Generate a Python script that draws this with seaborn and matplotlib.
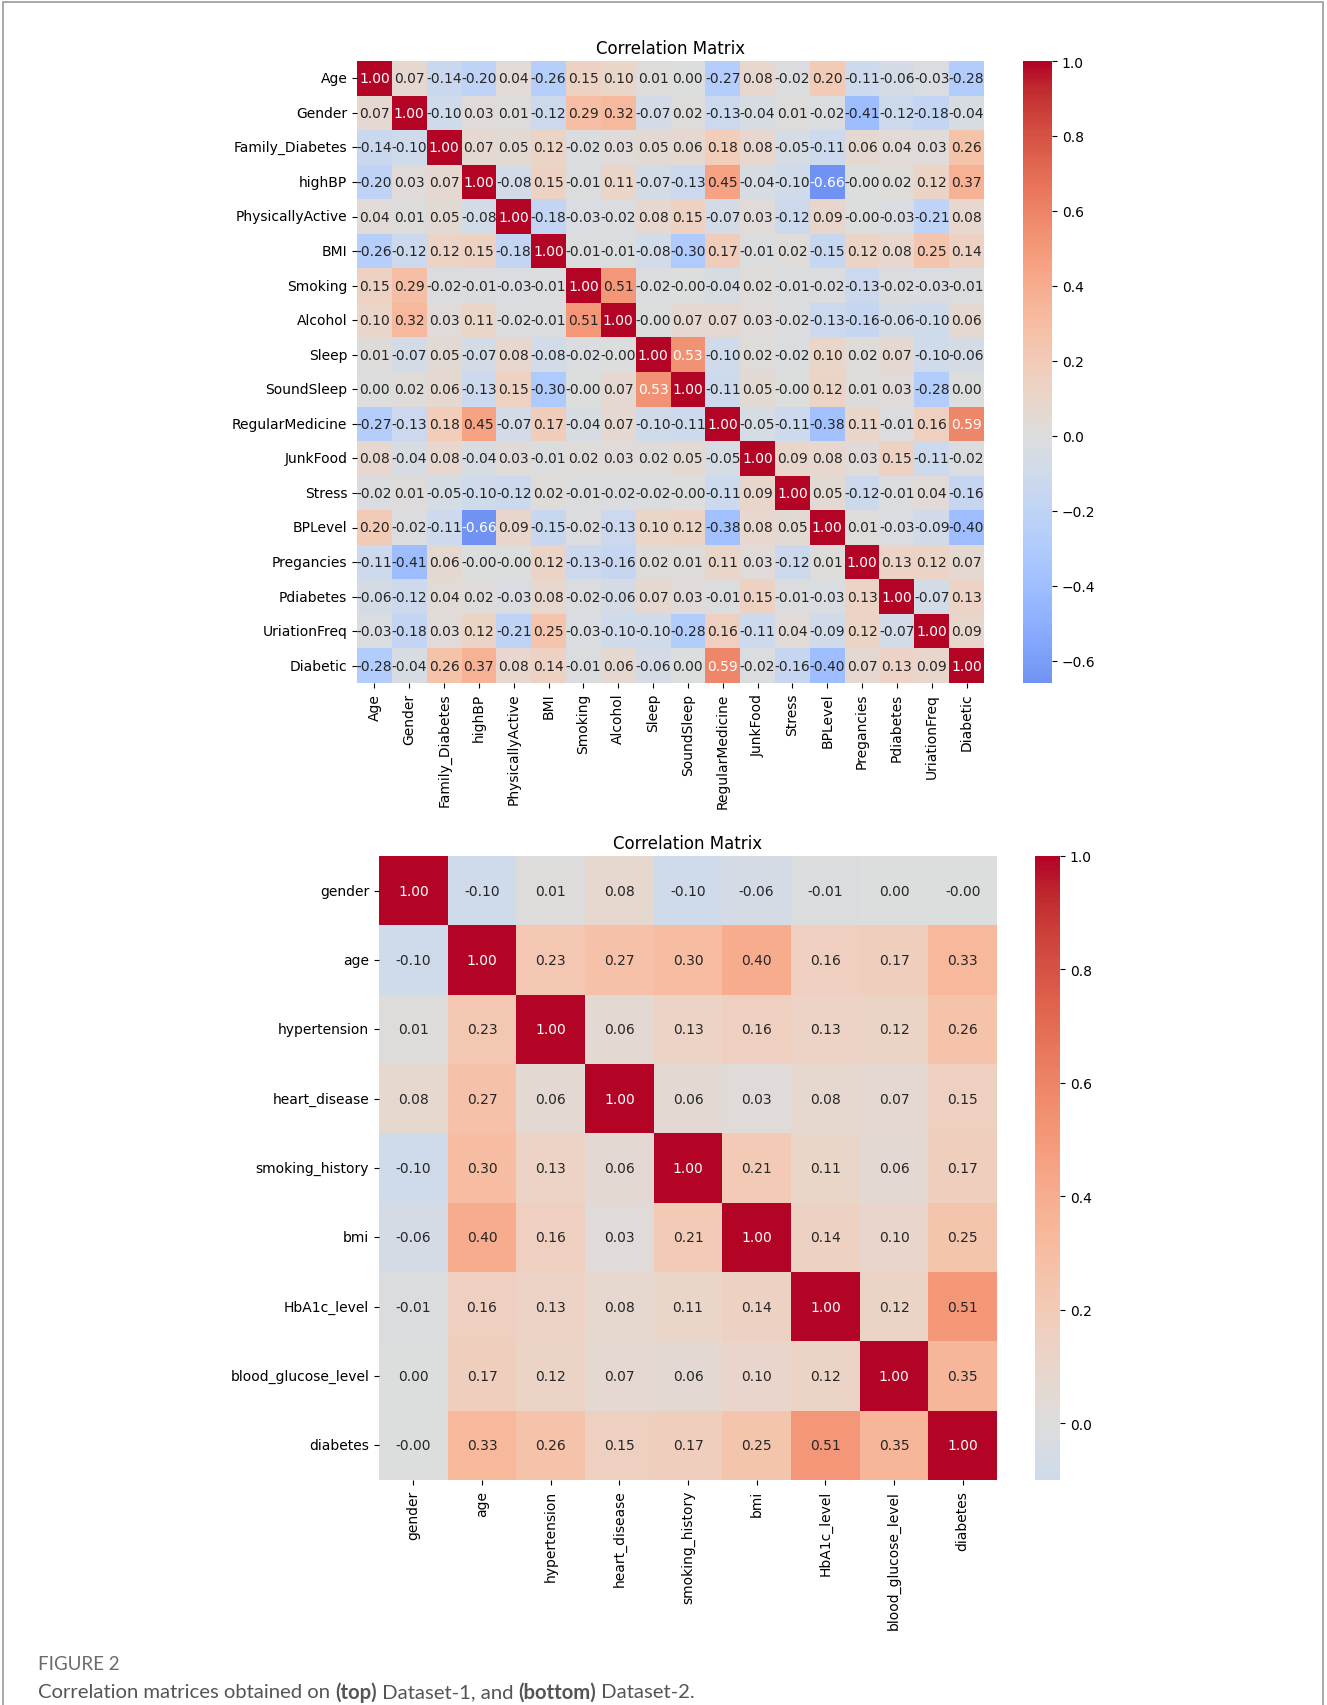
import numpy as np
import pandas as pd
import matplotlib
matplotlib.use("Agg")
import matplotlib.pyplot as plt
import seaborn as sns
from matplotlib.patches import Rectangle

# Dataset-1 features and pairwise correlations (-0.001 marks values that round to -0.00)
features_1 = ["Age", "Gender", "Family_Diabetes", "highBP", "PhysicallyActive", "BMI",
              "Smoking", "Alcohol", "Sleep", "SoundSleep", "RegularMedicine", "JunkFood",
              "Stress", "BPLevel", "Pregancies", "Pdiabetes", "UriationFreq", "Diabetic"]

corr_1 = [
    [1.00, 0.07, -0.14, -0.20, 0.04, -0.26, 0.15, 0.10, 0.01, 0.00, -0.27, 0.08, -0.02, 0.20, -0.11, -0.06, -0.03, -0.28],
    [0.07, 1.00, -0.10, 0.03, 0.01, -0.12, 0.29, 0.32, -0.07, 0.02, -0.13, -0.04, 0.01, -0.02, -0.41, -0.12, -0.18, -0.04],
    [-0.14, -0.10, 1.00, 0.07, 0.05, 0.12, -0.02, 0.03, 0.05, 0.06, 0.18, 0.08, -0.05, -0.11, 0.06, 0.04, 0.03, 0.26],
    [-0.20, 0.03, 0.07, 1.00, -0.08, 0.15, -0.01, 0.11, -0.07, -0.13, 0.45, -0.04, -0.10, -0.66, -0.001, 0.02, 0.12, 0.37],
    [0.04, 0.01, 0.05, -0.08, 1.00, -0.18, -0.03, -0.02, 0.08, 0.15, -0.07, 0.03, -0.12, 0.09, -0.001, -0.03, -0.21, 0.08],
    [-0.26, -0.12, 0.12, 0.15, -0.18, 1.00, -0.01, -0.01, -0.08, -0.30, 0.17, -0.01, 0.02, -0.15, 0.12, 0.08, 0.25, 0.14],
    [0.15, 0.29, -0.02, -0.01, -0.03, -0.01, 1.00, 0.51, -0.02, -0.001, -0.04, 0.02, -0.01, -0.02, -0.13, -0.02, -0.03, -0.01],
    [0.10, 0.32, 0.03, 0.11, -0.02, -0.01, 0.51, 1.00, -0.001, 0.07, 0.07, 0.03, -0.02, -0.13, -0.16, -0.06, -0.10, 0.06],
    [0.01, -0.07, 0.05, -0.07, 0.08, -0.08, -0.02, -0.001, 1.00, 0.53, -0.10, 0.02, -0.02, 0.10, 0.02, 0.07, -0.10, -0.06],
    [0.00, 0.02, 0.06, -0.13, 0.15, -0.30, -0.001, 0.07, 0.53, 1.00, -0.11, 0.05, -0.001, 0.12, 0.01, 0.03, -0.28, 0.00],
    [-0.27, -0.13, 0.18, 0.45, -0.07, 0.17, -0.04, 0.07, -0.10, -0.11, 1.00, -0.05, -0.11, -0.38, 0.11, -0.01, 0.16, 0.59],
    [0.08, -0.04, 0.08, -0.04, 0.03, -0.01, 0.02, 0.03, 0.02, 0.05, -0.05, 1.00, 0.09, 0.08, 0.03, 0.15, -0.11, -0.02],
    [-0.02, 0.01, -0.05, -0.10, -0.12, 0.02, -0.01, -0.02, -0.02, -0.001, -0.11, 0.09, 1.00, 0.05, -0.12, -0.01, 0.04, -0.16],
    [0.20, -0.02, -0.11, -0.66, 0.09, -0.15, -0.02, -0.13, 0.10, 0.12, -0.38, 0.08, 0.05, 1.00, 0.01, -0.03, -0.09, -0.40],
    [-0.11, -0.41, 0.06, -0.001, -0.001, 0.12, -0.13, -0.16, 0.02, 0.01, 0.11, 0.03, -0.12, 0.01, 1.00, 0.13, 0.12, 0.07],
    [-0.06, -0.12, 0.04, 0.02, -0.03, 0.08, -0.02, -0.06, 0.07, 0.03, -0.01, 0.15, -0.01, -0.03, 0.13, 1.00, -0.07, 0.13],
    [-0.03, -0.18, 0.03, 0.12, -0.21, 0.25, -0.03, -0.10, -0.10, -0.28, 0.16, -0.11, 0.04, -0.09, 0.12, -0.07, 1.00, 0.09],
    [-0.28, -0.04, 0.26, 0.37, 0.08, 0.14, -0.01, 0.06, -0.06, 0.00, 0.59, -0.02, -0.16, -0.40, 0.07, 0.13, 0.09, 1.00],
]

# Dataset-2 features and pairwise correlations
features_2 = ["gender", "age", "hypertension", "heart_disease", "smoking_history", "bmi",
              "HbA1c_level", "blood_glucose_level", "diabetes"]

corr_2 = [
    [1.00, -0.10, 0.01, 0.08, -0.10, -0.06, -0.01, 0.00, -0.001],
    [-0.10, 1.00, 0.23, 0.27, 0.30, 0.40, 0.16, 0.17, 0.33],
    [0.01, 0.23, 1.00, 0.06, 0.13, 0.16, 0.13, 0.12, 0.26],
    [0.08, 0.27, 0.06, 1.00, 0.06, 0.03, 0.08, 0.07, 0.15],
    [-0.10, 0.30, 0.13, 0.06, 1.00, 0.21, 0.11, 0.06, 0.17],
    [-0.06, 0.40, 0.16, 0.03, 0.21, 1.00, 0.14, 0.10, 0.25],
    [-0.01, 0.16, 0.13, 0.08, 0.11, 0.14, 1.00, 0.12, 0.51],
    [0.00, 0.17, 0.12, 0.07, 0.06, 0.10, 0.12, 1.00, 0.35],
    [-0.001, 0.33, 0.26, 0.15, 0.17, 0.25, 0.51, 0.35, 1.00],
]

title_text = "Correlation Matrix"
figure_label = "FIGURE 2"
caption_parts = [("Correlation matrices obtained on ", "normal"), ("(top)", "bold"),
                 (" Dataset-1, and ", "normal"), ("(bottom)", "bold"), (" Dataset-2.", "normal")]

W, H = 1327, 1706
fig = plt.figure(figsize=(W / 100, H / 100), dpi=100)
fig.patch.set_facecolor("white")


def px_axes(left, top, right, bottom):
    """Axes placed by pixel edges measured from the top-left corner."""
    return fig.add_axes([left / W, 1 - bottom / H, (right - left) / W, (bottom - top) / H])


def draw_matrix(ax, cax, labels, values):
    df = pd.DataFrame(values, index=labels, columns=labels)
    sns.heatmap(df, annot=True, fmt=".2f", cmap="coolwarm", center=0,
                ax=ax, cbar_ax=cax, annot_kws={"fontsize": 10})
    ax.set_title(title_text, fontsize=12, pad=6)
    ax.set_xticklabels(labels, rotation=90, fontsize=10)
    ax.set_yticklabels(labels, rotation=0, fontsize=10)
    cax.tick_params(labelsize=10)


ax1 = px_axes(357, 62, 984, 684)
cax1 = px_axes(1023, 62, 1052, 684)
draw_matrix(ax1, cax1, features_1, corr_1)

ax2 = px_axes(379, 857, 997, 1481)
cax2 = px_axes(1035, 857, 1060, 1481)
draw_matrix(ax2, cax2, features_2, corr_2)

# thin frame around the whole figure panel
fig.add_artist(Rectangle((3 / W, -0.01), (1323 - 3) / W, (H - 3) / H + 0.01,
                         transform=fig.transFigure, fill=False,
                         edgecolor="#9a9a9a", linewidth=1.2))

# figure label and caption
cap_font = "Lato"
fig.text(38 / W, 1 - 1665 / H, figure_label, fontsize=13.5, color="#6b6b6b",
         family=cap_font, va="center", ha="left")

renderer = fig.canvas.get_renderer()
size = 13.0
x0 = 38
target_width = 658


def place_caption(fsize):
    texts = []
    x = x0
    for part, weight in caption_parts:
        t = fig.text(x / W, 1 - 1693 / H, part, fontsize=fsize, color="#555555",
                     family=cap_font, weight=weight, va="center", ha="left")
        bb = t.get_window_extent(renderer=renderer)
        x += bb.width
        texts.append(t)
    return texts, x - x0


texts, width = place_caption(size)
for t in texts:
    t.remove()
texts, width = place_caption(size * target_width / width)

fig.savefig("out.png", dpi=100, facecolor="white")
